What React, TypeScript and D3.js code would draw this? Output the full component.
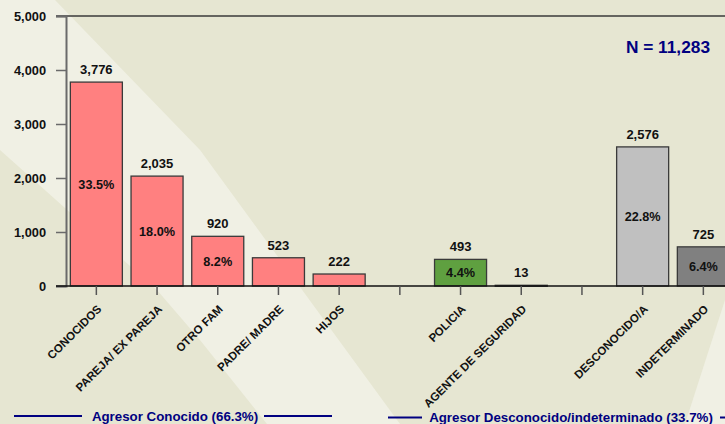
import React, { useRef, useEffect } from 'react';
import * as d3 from 'd3';

// chart values
const categories = [
  'CONOCIDOS',
  'PAREJA/ EX PAREJA',
  'OTRO FAM',
  'PADRE/ MADRE',
  'HIJOS',
  '',
  'POLICIA',
  'AGENTE DE SEGURIDAD',
  '',
  'DESCONOCIDO/A',
  'INDETERMINADO',
];
const counts = [3776, 2035, 920, 523, 222, null, 493, 13, null, 2576, 725];
const percents = ['33.5%', '18.0%', '8.2%', null, null, null, '4.4%', null, null, '22.8%', '6.4%'];
const fills = ['#FF8080', '#FF8080', '#FF8080', '#FF8080', '#FF8080', '', '#5FA040', '#707070', '', '#C0C0C0', '#808080'];
const yTicks = [0, 1000, 2000, 3000, 4000, 5000];
const totalLabel = 'N = 11,283';
const groupLabels = ['Agresor Conocido (66.3%)', 'Agresor Desconocido/indeterminado (33.7%)'];

const W = 725;
const H = 424;
const FONT = 'Arial, "Liberation Sans", Helvetica, sans-serif';

export default function App() {
  const svgRef = useRef<SVGSVGElement>(null);

  useEffect(() => {
    document.body.style.margin = '0';
    if (!svgRef.current) return;
    const svg = d3.select(svgRef.current);
    svg.selectAll('*').remove();

    const left = 66;
    const top = 16;
    const bottom = 286;
    const step = 60.7;

    const x = d3.scaleBand<number>()
      .domain(categories.map((_, i) => i))
      .range([left, left + categories.length * step])
      .paddingInner(0.143)
      .paddingOuter(0.0715);

    const y = d3.scaleLinear().domain([0, 5000]).range([bottom, top]);

    // background with diagonal light stripes
    svg.append('rect').attr('width', W).attr('height', H).attr('fill', '#E6E6D2');
    svg.append('polygon')
      .attr('points', '0,0 55,0 200,150 400,424 267,424 200,340 157,290 0,150')
      .attr('fill', '#F0F0E4');
    svg.append('polygon')
      .attr('points', '725,300 725,424 685,424')
      .attr('fill', '#F0F0E4');

    // top frame line
    svg.append('line')
      .attr('x1', 56).attr('x2', W)
      .attr('y1', y(5000)).attr('y2', y(5000))
      .attr('stroke', '#3a3a3a').attr('stroke-width', 1.5);

    // y axis
    const yAxis = svg.append('g')
      .attr('transform', `translate(${left},0)`)
      .call(
        d3.axisLeft(y)
          .tickValues(yTicks)
          .tickSize(10)
          .tickPadding(10)
          .tickFormat(d => d3.format(',')(d as number))
      );
    yAxis.select('.domain').attr('stroke', '#6a6a6a').attr('stroke-width', 2);
    yAxis.selectAll('.tick line').attr('stroke', '#6a6a6a').attr('stroke-width', 1.5);
    yAxis.selectAll('.tick text')
      .attr('fill', '#111')
      .style('font-family', FONT)
      .style('font-size', '12.8px')
      .style('font-weight', 'bold');

    // bars
    const idx = categories.map((_, i) => i).filter(i => counts[i] !== null);
    svg.selectAll('.bar')
      .data(idx)
      .enter()
      .append('rect')
      .attr('class', 'bar')
      .attr('x', i => x(i) || 0)
      .attr('width', x.bandwidth())
      .attr('y', i => y(counts[i] as number))
      .attr('height', i => Math.max(1, bottom - y(counts[i] as number)))
      .attr('fill', i => fills[i])
      .attr('stroke', '#3a3a3a')
      .attr('stroke-width', 1.3);

    // x axis line
    svg.append('line')
      .attr('x1', 56).attr('x2', W)
      .attr('y1', bottom).attr('y2', bottom)
      .attr('stroke', '#111').attr('stroke-width', 1.5);

    // x ticks
    svg.selectAll('.xtick')
      .data(categories.map((_, i) => i))
      .enter()
      .append('line')
      .attr('x1', i => (x(i) || 0) + x.bandwidth() / 2)
      .attr('x2', i => (x(i) || 0) + x.bandwidth() / 2)
      .attr('y1', bottom)
      .attr('y2', bottom + 9)
      .attr('stroke', '#555')
      .attr('stroke-width', 1.5);

    // category labels
    svg.selectAll('.xlab')
      .data(categories.map((_, i) => i).filter(i => categories[i] !== ''))
      .enter()
      .append('text')
      .attr('transform', i => `translate(${(x(i) || 0) + x.bandwidth() / 2},304) rotate(-45)`)
      .attr('text-anchor', 'end')
      .attr('dy', '0.72em')
      .attr('fill', '#111')
      .style('font-family', FONT)
      .style('font-size', '11.5px')
      .style('font-weight', 'bold')
      .text(i => categories[i]);

    // value labels
    svg.selectAll('.val')
      .data(idx)
      .enter()
      .append('text')
      .attr('x', i => (x(i) || 0) + x.bandwidth() / 2)
      .attr('y', i => y(counts[i] as number) - 8)
      .attr('text-anchor', 'middle')
      .attr('fill', '#111')
      .style('font-family', FONT)
      .style('font-size', '13px')
      .style('font-weight', 'bold')
      .text(i => d3.format(',')(counts[i] as number));

    // percent labels inside bars
    svg.selectAll('.pct')
      .data(idx.filter(i => percents[i] !== null))
      .enter()
      .append('text')
      .attr('x', i => (x(i) || 0) + x.bandwidth() / 2)
      .attr('y', i => y((counts[i] as number) / 2))
      .attr('dy', '0.36em')
      .attr('text-anchor', 'middle')
      .attr('fill', '#111')
      .style('font-family', FONT)
      .style('font-size', '12.7px')
      .style('font-weight', 'bold')
      .text(i => percents[i] as string);

    // total
    svg.append('text')
      .attr('x', 710)
      .attr('y', 53)
      .attr('text-anchor', 'end')
      .attr('fill', '#000080')
      .style('font-family', FONT)
      .style('font-size', '17.3px')
      .style('font-weight', 'bold')
      .text(totalLabel);

    // group legends
    const navy = '#000080';
    const legend = svg.append('g');
    legend.append('line').attr('x1', 14).attr('x2', 82).attr('y1', 416).attr('y2', 416)
      .attr('stroke', navy).attr('stroke-width', 2);
    legend.append('text')
      .attr('x', 175).attr('y', 420.5)
      .attr('text-anchor', 'middle')
      .attr('fill', navy)
      .style('font-family', FONT)
      .style('font-size', '13.3px')
      .style('font-weight', 'bold')
      .text(groupLabels[0]);
    legend.append('line').attr('x1', 264).attr('x2', 332).attr('y1', 416).attr('y2', 416)
      .attr('stroke', navy).attr('stroke-width', 2);

    legend.append('line').attr('x1', 388).attr('x2', 422).attr('y1', 417.5).attr('y2', 417.5)
      .attr('stroke', navy).attr('stroke-width', 2);
    legend.append('text')
      .attr('x', 571).attr('y', 422)
      .attr('text-anchor', 'middle')
      .attr('fill', navy)
      .style('font-family', FONT)
      .style('font-size', '13.3px')
      .style('font-weight', 'bold')
      .text(groupLabels[1]);
    legend.append('line').attr('x1', 720).attr('x2', 760).attr('y1', 417.5).attr('y2', 417.5)
      .attr('stroke', navy).attr('stroke-width', 2);
  }, []);

  return <svg ref={svgRef} width={W} height={H} style={{ display: 'block' }} />;
}
